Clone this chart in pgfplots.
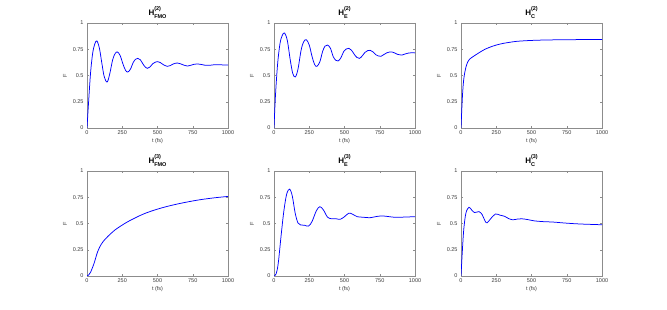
\documentclass[border=0pt]{standalone}
\usepackage{fontspec}
\setmainfont{Liberation Sans}
\usepackage{pgfplots}
\pgfplotsset{compat=1.18}
\definecolor{tickgray}{RGB}{60,60,60}
\newcommand{\Htit}[2]{\bfseries H\raisebox{-0.75ex}{\fontsize{5.5}{5}\selectfont\shortstack[l]{(#1)\\#2}}}
\pgfplotsset{
  panel/.style={
    scale only axis, width=141pt, height=105pt,
    xmin=0, xmax=1000, ymin=0, ymax=1,
    xtick={0,250,500,750,1000}, ytick={0,0.25,0.5,0.75,1},
    tick pos=both, tick align=inside, major tick length=2pt,
    axis line style={draw=black!45, line width=0.4pt},
    every tick/.style={black!45, line width=0.4pt},
    ticklabel style={font=\fontsize{5.5}{6}\selectfont, text=tickgray},
    xticklabel style={yshift=1pt},
    /pgf/number format/assume math mode=true,
    /pgf/number format/set thousands separator={},
    scaled ticks=false,
    xlabel={t (fs)}, ylabel={F},
    label style={font=\fontsize{5.5}{6}\selectfont, text=tickgray},
    xlabel style={yshift=3pt}, ylabel style={yshift=-1pt},
    title style={font=\fontsize{8}{9}\selectfont, yshift=-5pt},
    anchor=south west,
  },
  cur/.style={blue, line width=0.75pt, smooth, tension=0.55, mark=none},
}
\begin{document}
\begin{tikzpicture}
\fill[white] (0pt,0pt) rectangle (667pt,310pt);
% top left
\begin{axis}[panel, at={(87pt,182pt)}, title={\Htit{2}{FMO}}]
\addplot[cur] coordinates {(0,0)(10,0.22)(25,0.52)(40,0.71)(55,0.8)(70,0.829)(88,0.76)(105,0.62)(122,0.49)(143,0.438)(162,0.52)(182,0.65)(200,0.71)(216,0.724)(235,0.69)(255,0.61)(273,0.55)(289,0.533)(308,0.56)(328,0.625)(345,0.655)(360,0.663)(378,0.65)(398,0.607)(415,0.578)(428,0.568)(446,0.58)(466,0.612)(486,0.628)(501,0.632)(520,0.623)(545,0.6)(569,0.587)(590,0.594)(612,0.61)(640,0.619)(662,0.612)(690,0.597)(713,0.59)(735,0.597)(760,0.607)(784,0.61)(810,0.605)(840,0.597)(870,0.597)(900,0.602)(940,0.603)(970,0.6)(1000,0.6)};
\end{axis}
% top middle
\begin{axis}[panel, at={(274pt,182pt)}, title={\Htit{2}{E}}]
\addplot[cur] coordinates {(0,0)(10,0.3)(25,0.6)(42,0.8)(58,0.88)(75,0.905)(95,0.83)(115,0.65)(133,0.52)(151,0.486)(170,0.56)(192,0.74)(210,0.82)(229,0.841)(250,0.79)(270,0.68)(288,0.605)(304,0.587)(325,0.63)(345,0.73)(362,0.78)(380,0.79)(400,0.76)(420,0.68)(438,0.645)(455,0.638)(475,0.67)(495,0.73)(513,0.753)(531,0.759)(550,0.74)(570,0.7)(588,0.672)(606,0.663)(625,0.685)(645,0.72)(665,0.737)(682,0.74)(702,0.725)(722,0.698)(740,0.686)(759,0.683)(780,0.7)(800,0.716)(818,0.723)(837,0.724)(855,0.715)(875,0.702)(892,0.697)(908,0.695)(930,0.705)(955,0.714)(980,0.717)(1000,0.715)};
\end{axis}
% top right
\begin{axis}[panel, at={(461pt,182pt)}, title={\Htit{2}{C}}]
\addplot[cur] coordinates {(0,0)(10,0.3)(20,0.47)(35,0.58)(50,0.635)(62,0.657)(80,0.675)(120,0.71)(170,0.75)(220,0.777)(250,0.79)(300,0.806)(350,0.817)(400,0.826)(500,0.834)(600,0.838)(750,0.841)(1000,0.843)};
\end{axis}
% bottom left
\begin{axis}[panel, at={(87pt,34pt)}, title={\Htit{3}{FMO}}]
\addplot[cur] coordinates {(0,0)(12,0.01)(25,0.035)(50,0.12)(75,0.23)(100,0.3)(125,0.345)(150,0.38)(200,0.44)(250,0.485)(300,0.525)(400,0.59)(500,0.637)(600,0.673)(700,0.702)(800,0.726)(900,0.744)(1000,0.758)};
\end{axis}
% bottom middle
\begin{axis}[panel, at={(274pt,34pt)}, title={\Htit{3}{E}}]
\addplot[cur] coordinates {(0,0)(15,0.02)(30,0.12)(50,0.38)(70,0.62)(90,0.78)(111,0.827)(130,0.76)(150,0.6)(170,0.505)(190,0.485)(215,0.484)(245,0.475)(270,0.52)(300,0.62)(325,0.66)(350,0.63)(380,0.56)(410,0.545)(440,0.545)(470,0.54)(500,0.565)(530,0.598)(555,0.59)(590,0.565)(630,0.56)(680,0.555)(720,0.565)(760,0.572)(800,0.568)(850,0.56)(900,0.56)(1000,0.565)};
\end{axis}
% bottom right
\begin{axis}[panel, at={(461pt,34pt)}, title={\Htit{3}{C}}]
\addplot[cur] coordinates {(0,0)(10,0.25)(20,0.45)(35,0.6)(56,0.654)(75,0.63)(96,0.604)(127,0.613)(150,0.585)(170,0.525)(185,0.506)(210,0.545)(244,0.59)(275,0.58)(310,0.568)(340,0.545)(366,0.535)(400,0.542)(430,0.545)(470,0.538)(520,0.525)(580,0.518)(650,0.514)(750,0.503)(850,0.495)(1000,0.488)};
\end{axis}
\end{tikzpicture}
\end{document}
